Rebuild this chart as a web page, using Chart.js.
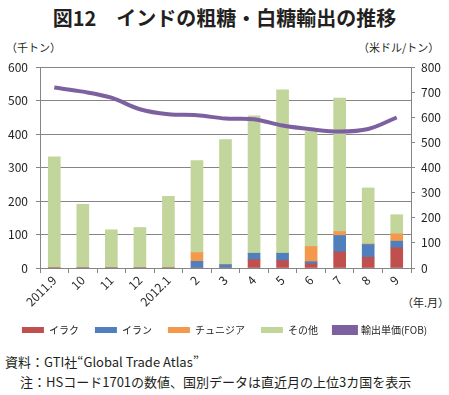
<!DOCTYPE html>
<html lang="ja">
<head>
<meta charset="utf-8">
<script src="https://cdn.jsdelivr.net/npm/chart.js@4.4.1/dist/chart.umd.min.js"></script>
<style>
  body { margin: 0; background: #fff; font-family: "Noto Sans CJK JP", sans-serif; color: #231f20; }
  #wrap { position: relative; width: 449px; height: 395px; overflow: hidden; }
  #wrap .t { position: absolute; white-space: nowrap; }
  #title { left: 0; width: 449px; top: 3px; text-align: center; font-size: 20px; font-weight: bold; }
  #unitL { left: 6px; top: 39px; font-size: 11px; }
  #unitR { left: 358px; top: 39px; font-size: 11px; }
  #ym { left: 402px; top: 294px; font-size: 11px; }
  #src { left: 5px; top: 352px; font-size: 13px; }
  #note { left: 20px; top: 372px; font-size: 13px; }
  #box { position: absolute; left: 0; top: 0; width: 449px; height: 345px; }
</style>
</head>
<body>
<div id="wrap">
  <div class="t" id="title">図12　インドの粗糖・白糖輸出の推移</div>
  <div class="t" id="unitL">（千トン）</div>
  <div class="t" id="unitR">（米ドル/トン）</div>
  <div class="t" id="ym">（年.月）</div>
  <div class="t" id="src">資料：GTI社“Global Trade Atlas”</div>
  <div class="t" id="note">注：HSコード1701の数値、国別データは直近月の上位3カ国を表示</div>
  <div id="box"><canvas id="c"></canvas></div>
</div>
<script>
const months = ['2011.9', '10', '11', '12', '2012.1', '2', '3', '4', '5', '6', '7', '8', '9'];
const iraq = [0, 0, 0, 0, 0, 0, 0, 25, 22, 12, 48, 32, 60];
const iran = [0, 0, 0, 0, 0, 20, 10, 19, 22, 7, 49, 38, 20];
const tunisia = [0, 0, 0, 0, 0, 26, 0, 0, 0, 45, 12, 2, 22];
const others = [332, 190, 114, 121, 214, 275, 373, 410, 488, 343, 398, 167, 57];
const unitPrice = [718, 702, 678, 632, 612, 608, 595, 592, 567, 552, 543, 553, 599];

const gridGray = '#858585';
const font = { family: '"Noto Sans CJK JP", sans-serif', size: 12 };

function bar(label, data, color) {
  return { type: 'bar', label, data, backgroundColor: color, yAxisID: 'y', barThickness: 12, order: 1 };
}

new Chart(document.getElementById('c'), {
  data: {
    labels: months,
    datasets: [
      bar('イラク', iraq, '#bf504d'),
      bar('イラン', iran, '#4f7fbc'),
      bar('チュニジア', tunisia, '#f4984c'),
      bar('その他', others, '#c2d59b'),
      {
        type: 'line', label: '輸出単価(FOB)', data: unitPrice, yAxisID: 'y1',
        borderColor: '#7d60a0', backgroundColor: '#7d60a0', borderWidth: 4,
        pointRadius: 0, tension: 0.35, order: 0
      }
    ]
  },
  options: {
    responsive: true,
    maintainAspectRatio: false,
    animation: false,
    layout: { padding: { top: 67, left: 0, right: 0, bottom: 0 } },
    scales: {
      x: {
        stacked: true,
        border: { color: gridGray },
        grid: { drawOnChartArea: false, color: gridGray, tickLength: 5 },
        ticks: { font, color: '#231f20', minRotation: 45, maxRotation: 45, padding: 0 },
        afterFit: s => { s.height = 41; }
      },
      y: {
        stacked: true, min: 0, max: 600,
        border: { color: gridGray },
        grid: { color: gridGray, tickLength: 4 },
        ticks: { stepSize: 100, font, color: '#231f20', padding: 8 },
        afterFit: s => { s.width = 40; }
      },
      y1: {
        position: 'right', min: 0, max: 800,
        border: { color: gridGray },
        grid: { drawOnChartArea: false, color: gridGray, tickLength: 4 },
        ticks: { stepSize: 100, font, color: '#231f20', padding: 6 },
        afterFit: s => { s.width = 38; }
      }
    },
    plugins: {
      tooltip: { enabled: false },
      legend: {
        position: 'bottom',
        labels: {
          font: { family: font.family, size: 10 },
          color: '#231f20',
          boxWidth: 22,
          boxHeight: 6,
          padding: 16,
          sort: (a, b) => a.datasetIndex - b.datasetIndex
        }
      }
    }
  }
});
</script>
</body>
</html>
